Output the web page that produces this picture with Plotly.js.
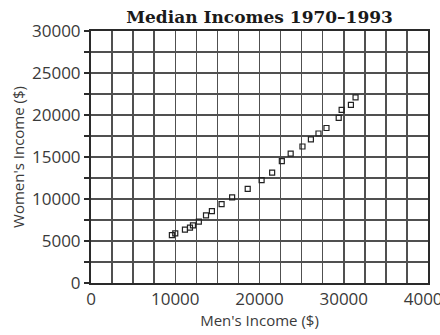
<!DOCTYPE html>
<html>
<head>
<meta charset="utf-8">
<script src="https://cdn.plot.ly/plotly-3.0.1.min.js"></script>
<style>html,body{margin:0;padding:0;background:#fff;}#chart{width:440px;height:335px;}</style>
</head>
<body>
<div id="chart"></div>
<script>
// Median incomes 1970–1993
const mensIncome = [9600, 10000, 11150, 11750, 12100, 12800, 13650, 14350, 15500, 16750, 18600, 20250, 21500, 22650, 23700, 25100, 26100, 27000, 27950, 29400, 29750, 30850, 31400];
const womensIncome = [5700, 5900, 6350, 6600, 6850, 7300, 8050, 8550, 9400, 10200, 11200, 12250, 13150, 14500, 15400, 16250, 17100, 17800, 18450, 19650, 20600, 21200, 22100];
// grid every 2500; labels only on some lines
const xTickVals = [0, 2500, 5000, 7500, 10000, 12500, 15000, 17500, 20000, 22500, 25000, 27500, 30000, 32500, 35000, 37500, 40000];
const xTickText = ['0', '', '', '', '10000', '', '', '', '20000', '', '', '', '30000', '', '', '', '40000'];
const yTickVals = [0, 2500, 5000, 7500, 10000, 12500, 15000, 17500, 20000, 22500, 25000, 27500, 30000];
const yTickText = ['0', '', '5000', '', '10000', '', '15000', '', '20000', '', '25000', '', '30000'];

const gridColor = '#505050';
const tickFont = {family: 'Open Sans, sans-serif', size: 17, color: '#3a3a3a'};

const trace = {
  x: mensIncome,
  y: womensIncome,
  type: 'scatter',
  mode: 'markers',
  marker: {symbol: 'square-open', size: 5, color: '#222', line: {width: 1.2, color: '#222'}},
  hoverinfo: 'skip'
};

const layout = {
  width: 440, height: 335,
  margin: {l: 91, r: 12, t: 31, b: 52},
  paper_bgcolor: '#fff', plot_bgcolor: '#fff',
  showlegend: false,
  title: {
    text: '<b>Median Incomes 1970–1993</b>',
    font: {family: 'DejaVu Serif, serif', size: 17, color: '#1a1a1a'},
    x: 0.59, xanchor: 'center', y: 0.95, yanchor: 'middle'
  },
  xaxis: {
    range: [0, 40000], tickmode: 'array', tickvals: xTickVals, ticktext: xTickText,
    showgrid: true, gridcolor: gridColor, gridwidth: 1.5,
    showline: true, mirror: true, linecolor: '#2a2a2a', linewidth: 2,
    ticks: '', tickfont: tickFont, zeroline: false, ticklabeloverflow: 'allow',
    title: {text: "Men's Income ($)", font: {family: 'Open Sans, sans-serif', size: 15, color: '#3a3a3a'}, standoff: 2}
  },
  yaxis: {
    range: [0, 30000], tickmode: 'array', tickvals: yTickVals, ticktext: yTickText,
    showgrid: true, gridcolor: gridColor, gridwidth: 1.5,
    showline: true, mirror: true, linecolor: '#2a2a2a', linewidth: 2,
    ticks: 'outside', ticklen: 5, tickcolor: '#2a2a2a', tickwidth: 1.3,
    tickfont: tickFont, zeroline: false, ticklabeloverflow: 'allow',
    title: {text: "Women's Income ($)", font: {family: 'Open Sans, sans-serif', size: 15, color: '#3a3a3a'}, standoff: 4}
  }
};

Plotly.newPlot('chart', [trace], layout, {staticPlot: true, displayModeBar: false});
</script>
</body>
</html>
